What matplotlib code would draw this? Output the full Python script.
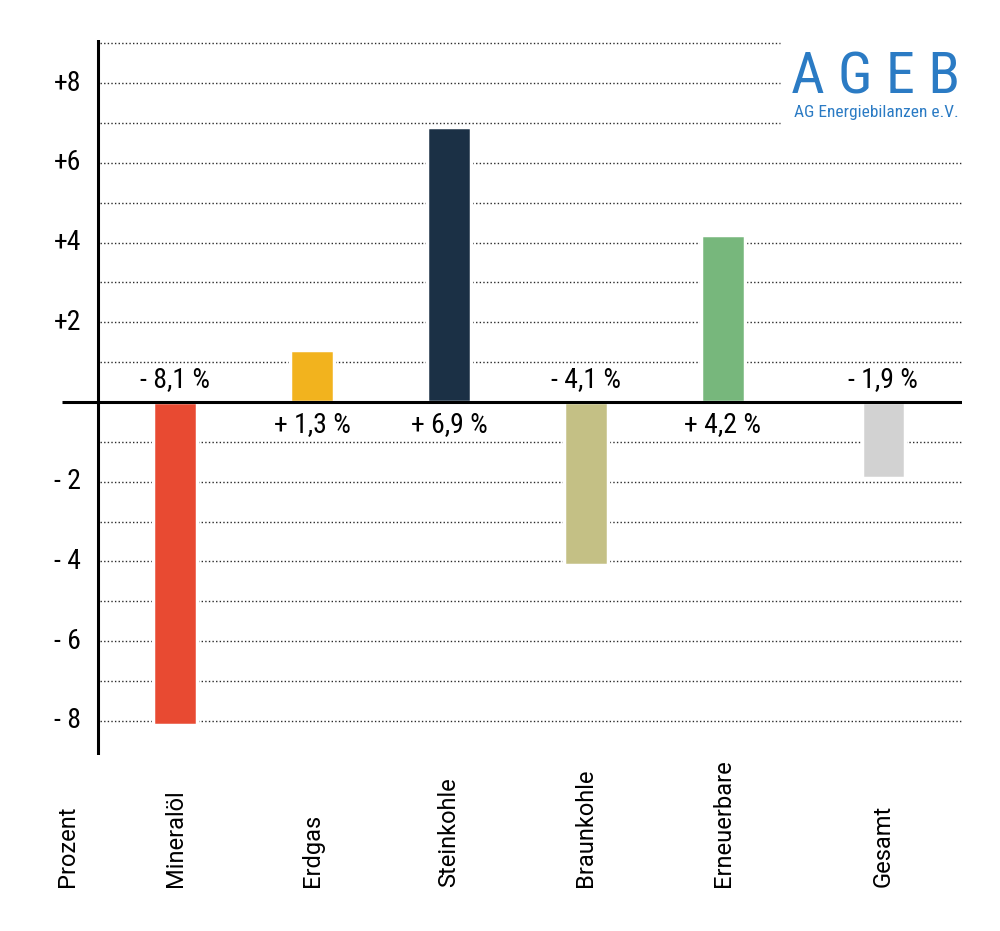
import matplotlib.pyplot as plt

# data
categories = ["Mineralöl", "Erdgas", "Steinkohle", "Braunkohle", "Erneuerbare", "Gesamt"]
values = [-8.1, 1.3, 6.9, -4.1, 4.2, -1.9]
value_labels = ["- 8,1 %", "+ 1,3 %", "+ 6,9 %", "- 4,1 %", "+ 4,2 %", "- 1,9 %"]
tick_values = [8, 6, 4, 2, -2, -4, -6, -8]
tick_labels = ["+8", "+6", "+4", "+2", "- 2", "- 4", "- 6", "- 8"]
colors = ["#E84A32", "#F2B31E", "#1B3045", "#C4C085", "#77B77C", "#D2D2D2"]

# layout
xpos = [0, 1, 2, 3, 4, 5.17]
cond = ["Liberation Sans Narrow", "Roboto Condensed", "DejaVu Sans"]

fig = plt.figure(figsize=(10, 9.31), dpi=100)
W, H = 1000, 931
# axes frame in pixels: x 62..962, y 40..755
ax = fig.add_axes([62 / W, 1 - 755 / H, 900 / W, 715 / H])
x0 = -(175 - 62) / 137
x1 = (962 - 175) / 137
ax.set_xlim(x0, x1)
ax.set_ylim(-(755 - 402) / 39.85, (402 - 40) / 39.85)
ax.axis("off")

yaxis_x = (98 - 175) / 137
grid_start = (100 - 175) / 137
grid_short = (780 - 175) / 137

# dotted gridlines
for v in range(-8, 10):
    if v == 0:
        continue
    end = grid_short if v >= 7 else x1
    ax.plot([grid_start, end], [v, v], color="#2a2a2a", lw=1.0,
            linestyle=(0, (1, 1.6)), zorder=1)

# bars
ax.bar(xpos, values, width=0.315, color=colors, edgecolor="white",
       linewidth=2.5, zorder=2)

# axis lines
ax.plot([x0, x1], [0, 0], color="black", lw=2.2, zorder=3, solid_capstyle="butt")
ax.axvline(yaxis_x, color="black", lw=2.2, zorder=3)

# tick labels
for v, t in zip(tick_values, tick_labels):
    ax.text(-(175 - 81) / 137, v, t, ha="right", va="center",
            fontsize=20, family=cond)

# value labels
for x, v, lab in zip(xpos, values, value_labels):
    if v < 0:
        ax.text(x, 0.22, lab, ha="center", va="bottom", fontsize=20, family=cond)
    else:
        ax.text(x, -0.22, lab, ha="center", va="top", fontsize=20, family=cond)

# category labels
for x, c in zip(xpos, categories):
    fig.text((175 + x * 137) / W, 1 - 887 / H, c, rotation=90, ha="center",
             va="bottom", fontsize=17, family="Roboto")
fig.text(67 / W, 1 - 887 / H, "Prozent", rotation=90, ha="center",
         va="bottom", fontsize=17, family="Roboto")

# logo
fig.text(876 / W, 1 - 93 / H, "A G E B", ha="center", va="baseline",
         fontsize=42, color="#2B7BC4", family=cond)
fig.text(876 / W, 1 - 117 / H, "AG Energiebilanzen e.V.", ha="center",
         va="baseline", fontsize=12.5, color="#2B7BC4", family=cond)

fig.savefig("out.png", dpi=100)
